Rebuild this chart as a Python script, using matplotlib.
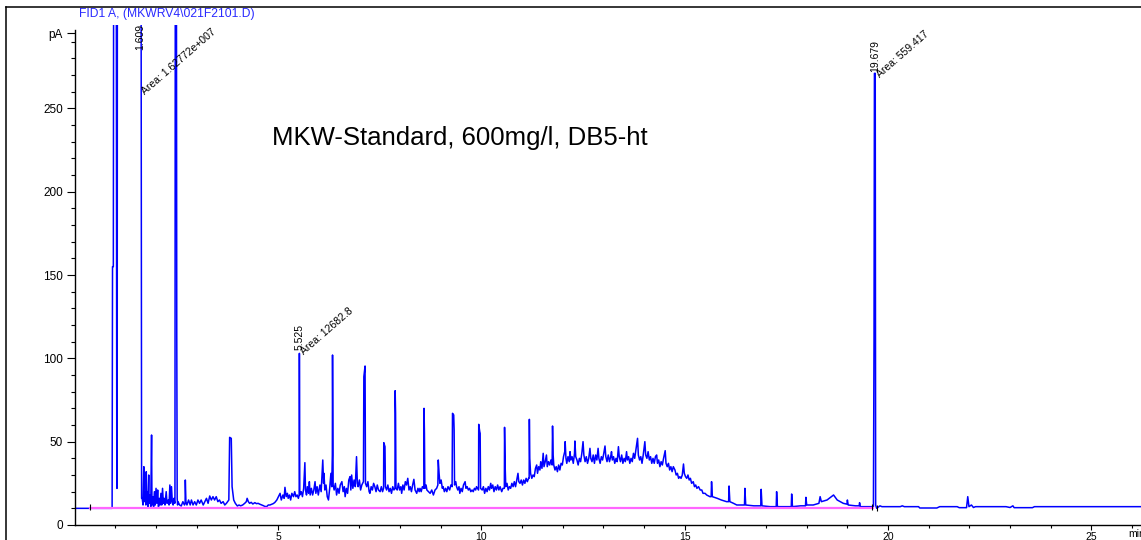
import matplotlib
matplotlib.use("Agg")
import matplotlib.pyplot as plt
from matplotlib.lines import Line2D
import numpy as np

plt.rcParams['font.family'] = ['Liberation Sans', 'DejaVu Sans']

# FID1 A signal, (retention time [min], signal [pA])
pre_solvent = [(0.00, 10), (0.37, 10), (0.92, 10), (0.93, 155), (0.95, 155),
               (0.96, 400), (1.02, 400), (1.035, 22), (1.045, 22), (1.05, 400),
               (1.63, 400), (1.645, 16)]

early = [(1.66, 16), (1.68, 12), (1.70, 35), (1.71, 14), (1.73, 20), (1.75, 12),
         (1.76, 32), (1.77, 13), (1.79, 20), (1.80, 11), (1.82, 30), (1.83, 13),
         (1.85, 18), (1.87, 11), (1.88, 31), (1.89, 54), (1.90, 12), (1.92, 17),
         (1.94, 11), (1.96, 20), (1.98, 12), (2.00, 22), (2.02, 13), (2.04, 21),
         (2.06, 11), (2.08, 16), (2.10, 12), (2.12, 19), (2.14, 12), (2.16, 22),
         (2.18, 13), (2.20, 16), (2.22, 12), (2.25, 20), (2.27, 13), (2.30, 15),
         (2.32, 12), (2.34, 24), (2.36, 13), (2.38, 23), (2.40, 14), (2.42, 12),
         (2.44, 16), (2.46, 13)]

second_peak = [(2.465, 14), (2.475, 400), (2.50, 400), (2.505, 221), (2.51, 113),
               (2.52, 16), (2.53, 12)]

low_region = [(2.54, 14), (2.58, 12), (2.62, 11.4), (2.66, 14), (2.70, 12),
              (2.715, 13), (2.72, 27), (2.735, 14), (2.76, 12), (2.80, 15),
              (2.84, 12), (2.87, 15), (2.91, 12), (2.95, 14), (2.99, 12),
              (3.03, 15), (3.07, 13), (3.11, 15), (3.16, 12), (3.20, 14),
              (3.24, 16), (3.28, 13), (3.32, 17.4), (3.36, 15), (3.40, 17),
              (3.44, 15), (3.48, 17), (3.52, 14), (3.56, 15), (3.60, 13),
              (3.65, 14), (3.69, 12), (3.73, 13), (3.79, 15), (3.81, 52.6),
              (3.85, 52), (3.87, 23), (3.91, 15), (3.95, 13), (4.00, 11.4),
              (4.04, 12), (4.08, 11.5), (4.13, 12), (4.18, 13), (4.22, 14),
              (4.24, 16), (4.27, 14), (4.30, 13), (4.34, 13.6), (4.38, 12.6),
              (4.43, 13.4), (4.47, 12.8), (4.51, 13), (4.55, 12.5), (4.60, 12),
              (4.64, 11.6), (4.67, 11.2), (4.72, 11), (4.76, 12), (4.80, 12),
              (4.84, 12.4), (4.88, 12.8), (4.92, 13.5)]

series_region = [(4.97, 15), (5.01, 17), (5.05, 19), (5.08, 15), (5.12, 18),
                 (5.15, 16), (5.17, 22.6), (5.20, 17), (5.23, 19), (5.25, 16),
                 (5.28, 18), (5.31, 15), (5.34, 19), (5.38, 17), (5.41, 20),
                 (5.44, 17), (5.47, 18), (5.50, 16), (5.52, 18), (5.525, 103),
                 (5.535, 18), (5.57, 20), (5.60, 17), (5.63, 22), (5.66, 37.4),
                 (5.675, 21), (5.70, 18), (5.72, 23), (5.75, 19), (5.77, 26),
                 (5.79, 18), (5.82, 22), (5.85, 18), (5.88, 21), (5.91, 26),
                 (5.93, 19), (5.96, 23), (5.99, 18), (6.03, 24), (6.06, 20),
                 (6.08, 30), (6.10, 39), (6.12, 25), (6.13, 31), (6.15, 21),
                 (6.18, 24), (6.21, 17), (6.24, 15), (6.27, 22), (6.30, 31),
                 (6.32, 23), (6.335, 42), (6.34, 102), (6.355, 24), (6.38, 21),
                 (6.41, 25), (6.44, 18), (6.47, 22), (6.50, 19), (6.53, 24),
                 (6.57, 26), (6.60, 20), (6.63, 23), (6.65, 17), (6.68, 22),
                 (6.71, 19), (6.74, 27), (6.77, 29), (6.79, 21), (6.81, 30),
                 (6.84, 22), (6.87, 27), (6.90, 23), (6.93, 41), (6.95, 25),
                 (6.97, 23), (7.00, 27), (7.03, 21), (7.06, 24), (7.10, 26),
                 (7.11, 89), (7.14, 95.4), (7.15, 25), (7.18, 23), (7.21, 26),
                 (7.24, 20), (7.26, 19), (7.29, 23), (7.32, 21), (7.35, 25),
                 (7.38, 23), (7.41, 20), (7.44, 24), (7.47, 21), (7.51, 20),
                 (7.54, 23), (7.57, 20), (7.595, 22), (7.60, 49.4), (7.63, 47),
                 (7.64, 23), (7.67, 21), (7.70, 24), (7.73, 20), (7.76, 22),
                 (7.79, 19), (7.82, 23), (7.85, 21), (7.875, 22), (7.88, 80.6),
                 (7.89, 67), (7.90, 22), (7.93, 21), (7.96, 25), (7.99, 21),
                 (8.02, 23), (8.04, 19), (8.07, 24), (8.10, 21), (8.13, 26),
                 (8.16, 24), (8.19, 28), (8.22, 21), (8.25, 23), (8.28, 20),
                 (8.31, 24), (8.34, 27.4), (8.37, 21), (8.41, 19), (8.44, 22),
                 (8.47, 20), (8.49, 22), (8.52, 20), (8.55, 23), (8.585, 22),
                 (8.59, 70), (8.60, 55), (8.61, 22), (8.64, 24), (8.66, 21),
                 (8.70, 20), (8.74, 19), (8.78, 21), (8.82, 18), (8.86, 21),
                 (8.90, 22), (8.93, 24), (8.94, 39), (8.96, 31), (8.98, 25),
                 (9.01, 27), (9.04, 22), (9.06, 23), (9.09, 20), (9.12, 22),
                 (9.15, 20), (9.18, 23), (9.22, 21), (9.25, 24), (9.28, 23),
                 (9.29, 67), (9.32, 66), (9.33, 57), (9.34, 24), (9.37, 26),
                 (9.39, 23), (9.42, 21), (9.45, 23), (9.47, 19), (9.50, 22),
                 (9.53, 20), (9.56, 24), (9.60, 26), (9.62, 22), (9.65, 23),
                 (9.68, 21), (9.71, 22), (9.74, 20), (9.77, 21), (9.80, 20),
                 (9.83, 22), (9.86, 21), (9.88, 23), (9.93, 21), (9.935, 60.4),
                 (9.96, 56), (9.97, 55), (9.98, 22)]

hump_region = [(10.02, 21), (10.05, 23), (10.08, 19), (10.11, 22), (10.14, 20),
               (10.17, 23), (10.20, 21), (10.23, 25), (10.25, 22), (10.28, 24),
               (10.31, 20), (10.34, 23), (10.37, 21), (10.40, 24), (10.43, 21),
               (10.46, 23), (10.50, 20), (10.53, 22), (10.565, 22), (10.57, 58.6),
               (10.585, 35), (10.60, 23), (10.63, 25), (10.66, 21), (10.69, 23),
               (10.72, 22), (10.75, 25), (10.78, 23), (10.81, 26), (10.84, 23),
               (10.87, 27), (10.90, 31), (10.92, 26), (10.95, 25), (10.98, 27),
               (11.01, 24), (11.04, 27), (11.07, 25), (11.10, 28), (11.13, 26),
               (11.16, 28), (11.175, 28), (11.18, 63.4), (11.19, 40), (11.21, 31),
               (11.24, 28), (11.27, 30), (11.30, 29), (11.33, 34), (11.36, 36),
               (11.38, 31), (11.41, 35), (11.44, 33), (11.46, 38), (11.49, 34),
               (11.52, 43), (11.54, 35), (11.57, 38), (11.60, 42), (11.62, 35),
               (11.65, 38), (11.68, 36), (11.71, 39), (11.74, 36), (11.75, 59.4),
               (11.765, 42), (11.78, 36), (11.81, 33), (11.84, 35), (11.87, 32),
               (11.90, 36), (11.93, 33), (11.96, 37), (11.99, 36), (12.02, 41),
               (12.05, 44), (12.06, 50), (12.08, 40), (12.10, 37), (12.13, 41),
               (12.16, 38), (12.18, 44), (12.20, 39), (12.23, 41), (12.26, 37),
               (12.29, 43), (12.30, 50.4), (12.32, 41), (12.35, 39), (12.38, 36),
               (12.41, 40), (12.44, 38), (12.47, 43), (12.50, 50), (12.52, 42),
               (12.55, 38), (12.58, 41), (12.61, 37), (12.64, 40), (12.67, 46),
               (12.69, 40), (12.72, 38), (12.75, 42), (12.78, 37), (12.81, 42),
               (12.84, 39), (12.87, 46), (12.89, 40), (12.92, 37), (12.95, 41),
               (12.98, 39), (13.01, 43), (13.04, 47.4), (13.06, 41), (13.09, 38),
               (13.12, 42), (13.15, 38), (13.18, 41), (13.20, 44), (13.22, 39),
               (13.25, 41), (13.28, 37), (13.31, 40), (13.34, 38), (13.37, 47),
               (13.39, 41), (13.42, 38), (13.45, 42), (13.48, 37), (13.51, 40),
               (13.54, 38), (13.57, 44), (13.59, 39), (13.62, 41), (13.65, 37),
               (13.68, 40), (13.71, 38), (13.74, 43), (13.77, 40), (13.80, 45),
               (13.84, 52), (13.86, 42), (13.89, 39), (13.92, 41), (13.95, 37),
               (13.98, 42), (14.02, 50), (14.04, 42), (14.07, 40), (14.10, 44),
               (14.13, 39), (14.16, 41), (14.19, 37), (14.22, 40), (14.25, 37),
               (14.28, 41), (14.31, 42), (14.33, 37), (14.36, 39), (14.39, 35),
               (14.42, 38), (14.45, 36), (14.48, 40), (14.52, 44.6), (14.54, 37),
               (14.57, 35), (14.60, 37), (14.63, 33), (14.66, 35), (14.69, 32),
               (14.72, 35), (14.76, 33), (14.79, 30), (14.82, 31), (14.85, 28),
               (14.88, 29), (14.91, 28), (14.94, 30), (14.97, 36.6), (14.99, 31),
               (15.02, 29)]

tail_region = [(15.05, 28), (15.08, 30), (15.11, 27), (15.14, 28), (15.17, 25),
               (15.21, 26), (15.24, 23), (15.27, 24), (15.30, 22), (15.34, 23),
               (15.38, 21), (15.42, 21), (15.45, 19), (15.50, 19), (15.54, 18),
               (15.62, 17), (15.65, 17), (15.66, 26), (15.68, 17), (15.80, 16),
               (15.90, 15), (16.03, 14), (16.08, 14), (16.09, 23.4), (16.11, 14),
               (16.20, 13), (16.28, 12), (16.47, 12), (16.48, 22), (16.50, 12),
               (16.70, 11.5), (16.87, 11.5), (16.88, 21.4), (16.90, 11.5),
               (17.10, 11), (17.25, 11), (17.26, 20), (17.28, 11), (17.45, 11),
               (17.62, 11), (17.63, 18.6), (17.65, 11), (17.85, 11.5),
               (17.97, 11.5), (17.98, 16.6), (18.00, 12), (18.16, 12), (18.30, 13),
               (18.33, 17), (18.36, 14), (18.50, 15), (18.66, 18), (18.75, 15),
               (18.90, 13), (18.99, 12.5), (19.00, 15), (19.02, 12), (19.20, 11.5),
               (19.29, 11.5), (19.30, 13.4), (19.32, 11), (19.50, 11), (19.64, 11)]

late_region = [(19.655, 110), (19.665, 271), (19.685, 271), (19.695, 12),
               (19.72, 10), (19.80, 11.5), (19.85, 11), (20.30, 11), (20.35, 11.5),
               (20.40, 11), (20.75, 11), (20.78, 10.2), (21.20, 10.2), (21.27, 11),
               (21.70, 11), (21.75, 10.4), (21.93, 10.4), (21.96, 17), (21.99, 11),
               (22.05, 12), (22.10, 10.5), (22.15, 11), (22.90, 11), (23.00, 10.5),
               (23.07, 11.5), (23.10, 10.4), (23.55, 10.4), (23.60, 11), (26.30, 11)]

# integration baseline and labelled peaks
baseline_t = [0.37, 19.62]
baseline_y = [10, 10]
peak_rt = [1.609, 5.525, 19.679]
peak_area = ["1.62772e+007", "12682.8", "559.417"]
label_y = [285, 105, 272]
area_y = [258, 102, 268]

trace = pre_solvent + early + second_peak + low_region + series_region \
    + hump_region + tail_region + late_region
t = np.array([p[0] for p in trace])
signal = np.array([p[1] for p in trace])

fig = plt.figure(figsize=(11.41, 5.40), dpi=100)
ax = fig.add_axes([0.06547, 0.02778, 0.93453, 0.9259])

ax.plot(t, signal, color='#0000ff', lw=1.1, zorder=2)
ax.plot(baseline_t, baseline_y, color='#ff66ff', lw=1.6, zorder=3)
ax.plot([0.37, 19.6, 19.74], [10.8, 11, 10], ls='none', marker='|',
        color='k', ms=4, mew=0.8, zorder=4)

for rt, area, ly, ay in zip(peak_rt, peak_area, label_y, area_y):
    ax.text(rt, ly, f"{rt:.3f}", rotation=90, ha='center', va='bottom',
            fontsize=7.5, clip_on=False)
    ax.text(rt + 0.12, ay, "Area: " + area, rotation=41,
            rotation_mode='anchor', ha='left', va='baseline', fontsize=7.5,
            clip_on=False)

ax.text(4.85, 232, "MKW-Standard, 600mg/l, DB5-ht", fontsize=18.5,
        va='center', ha='left')

ax.set_xlim(0, 26.22)
ax.set_ylim(0, 300)
ax.spines['top'].set_visible(False)
ax.spines['right'].set_visible(False)
ax.spines['left'].set_bounds(0, 297)
for s in ('left', 'bottom'):
    ax.spines[s].set_linewidth(1.0)

ax.set_xticks([5, 10, 15, 20, 25])
ax.set_xticks(np.arange(1, 27), minor=True)
ax.set_yticks([0, 50, 100, 150, 200, 250, 295])
ax.set_yticklabels(['0', '50', '100', '150', '200', '250', 'pA'])
ax.set_yticks(np.arange(10, 295, 10), minor=True)
ax.tick_params(axis='y', which='major', length=5.5, width=0.8, labelsize=8.5, pad=3)
ax.tick_params(axis='y', which='minor', length=3, width=0.8)
ax.tick_params(axis='x', which='major', length=3.5, width=0.8, labelsize=7.5, pad=1.5)
ax.tick_params(axis='x', which='minor', length=2.5, width=0.8)
ax.text(25.9, -2.2, "min", fontsize=7.5, va='top', ha='left', clip_on=False)

fig.text(0.069, 0.974, "FID1 A, (MKWRV4\\021F2101.D)", color='#2a2aff',
         fontsize=8.7, va='center', ha='left')

# frame around the report page
fig.add_artist(Line2D([0.0053, 1.0], [0.987, 0.987], color='k', lw=1.1))
fig.add_artist(Line2D([0.0053, 0.0053], [0.0, 0.987], color='k', lw=1.1))

fig.savefig("out.png", dpi=100)
